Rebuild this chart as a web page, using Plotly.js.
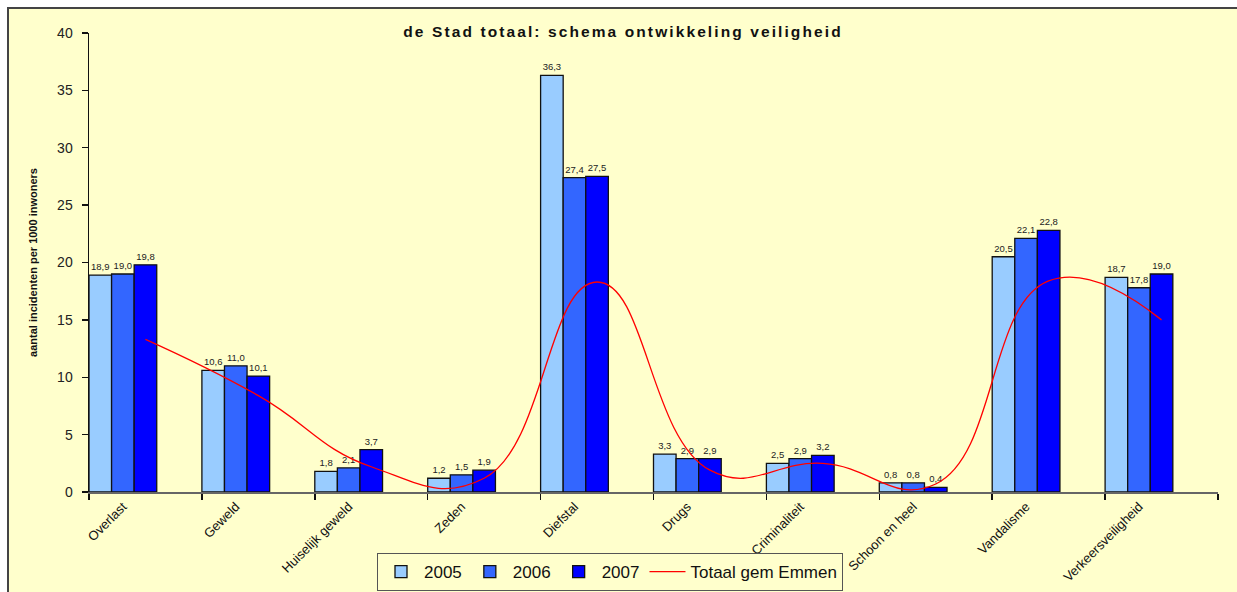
<!DOCTYPE html>
<html>
<head>
<meta charset="utf-8">
<script src="https://cdn.plot.ly/plotly-3.0.1.min.js"></script>
<style>
  html, body { margin: 0; padding: 0; background: #ffffff; width: 1237px; height: 592px; overflow: hidden; }
  #chart { position: absolute; left: 7px; top: 7px; width: 1228px; height: 583px;
           border-left: 2px solid #444; border-top: 2px solid #444; background: #FFFFCC; overflow: hidden; }
  #chart .gtitle { letter-spacing: 2.1px; }
</style>
</head>
<body>
<div id="chart"></div>
<script>
const categories = ['Overlast', 'Geweld', 'Huiselijk geweld', 'Zeden', 'Diefstal', 'Drugs',
                    'Criminaliteit', 'Schoon en heel', 'Vandalisme', 'Verkeersveiligheid'];
const seriesNames = ['2005', '2006', '2007'];
const v2005 = [18.9, 10.6, 1.8, 1.2, 36.3, 3.3, 2.5, 0.8, 20.5, 18.7];
const v2006 = [19.0, 11.0, 2.1, 1.5, 27.4, 2.9, 2.9, 0.8, 22.1, 17.8];
const v2007 = [19.8, 10.1, 3.7, 1.9, 27.5, 2.9, 3.2, 0.4, 22.8, 19.0];
const totaalName = 'Totaal gem Emmen';
const totaal = [13.3, 8.4, 2.2, 1.2, 18.3, 1.9, 2.5, 0.7, 18.4, 15.0];
const yTicks = [0, 5, 10, 15, 20, 25, 30, 35, 40];

const font = '"Liberation Sans", Arial, sans-serif';
const barColors = ['#99CCFF', '#3366FF', '#0000FF'];
const idx = categories.map((_, i) => i);
const bw = 0.2;

const traces = [v2005, v2006, v2007].map((vals, s) => ({
  type: 'bar',
  name: seriesNames[s],
  x: idx,
  y: vals,
  width: bw,
  offset: s * bw,
  marker: { color: barColors[s], line: { color: '#111', width: 1.3 } },
  texttemplate: '%{y:.1f}',
  textposition: 'outside',
  constraintext: 'none',
  cliponaxis: false,
  textfont: { family: font, size: 9.5, color: '#222' },
  hoverinfo: 'skip'
}));

traces.push({
  type: 'scatter',
  mode: 'lines',
  name: totaalName,
  x: idx.map(i => i + 0.5),
  y: totaal,
  line: { color: '#FF0000', width: 1.3, shape: 'spline', smoothing: 1.3 },
  cliponaxis: false,
  hoverinfo: 'skip'
});

const W = 1228, H = 583;
const mL = 80, mT = 24, plotW = 1129, plotH = 459;

const layout = {
  width: W, height: H,
  paper_bgcolor: '#FFFFCC', plot_bgcolor: '#FFFFCC',
  separators: ',.',
  barmode: 'overlay',
  showlegend: true,
  margin: { l: mL, r: W - mL - plotW, t: mT, b: H - mT - plotH, autoexpand: false },
  font: { family: font, color: '#111' },
  title: {
    text: '<b>de Stad totaal: schema ontwikkeling veiligheid</b>',
    font: { family: font, size: 15.5, color: '#111' },
    xref: 'paper', x: (614 - mL) / plotW, xanchor: 'center',
    yref: 'container', y: 1 - 23 / H, yanchor: 'middle'
  },
  xaxis: {
    type: 'linear',
    range: [0, categories.length],
    tickmode: 'array',
    tickvals: idx.map(i => i + 0.3),
    ticktext: categories,
    tickangle: -45,
    ticks: '',
    tickfont: { family: font, size: 13, color: '#111' },
    showline: true, linecolor: '#666', linewidth: 2,
    showgrid: false, zeroline: false,
    minor: { tickmode: 'array', tickvals: idx.concat([categories.length]), ticks: 'outside', ticklen: 6, tickwidth: 1.5, tickcolor: '#111', showgrid: false },
    fixedrange: true
  },
  yaxis: {
    range: [0, 40],
    tickmode: 'array',
    tickvals: yTicks,
    ticks: 'outside', ticklen: 6, tickwidth: 1.3, tickcolor: '#111',
    ticklabelstandoff: 6,
    tickfont: { family: font, size: 14, color: '#222' },
    showline: true, linecolor: '#111', linewidth: 1.5,
    showgrid: false, zeroline: false,
    title: {
      text: '<b>aantal incidenten per 1000 inwoners</b>',
      font: { family: font, size: 11, color: '#111' },
      standoff: 17
    },
    fixedrange: true
  },
  legend: {
    orientation: 'h',
    x: (368 - mL) / plotW, xanchor: 'left',
    y: (mT + plotH - 582) / plotH, yanchor: 'bottom',
    bgcolor: '#FFFFCC',
    bordercolor: '#555', borderwidth: 1,
    font: { family: font, size: 17, color: '#111' },
    itemwidth: 36,
    traceorder: 'normal',
    tracegroupgap: 0
  }
};

Plotly.newPlot('chart', traces, layout, { displayModeBar: false, staticPlot: true });
</script>
</body>
</html>
